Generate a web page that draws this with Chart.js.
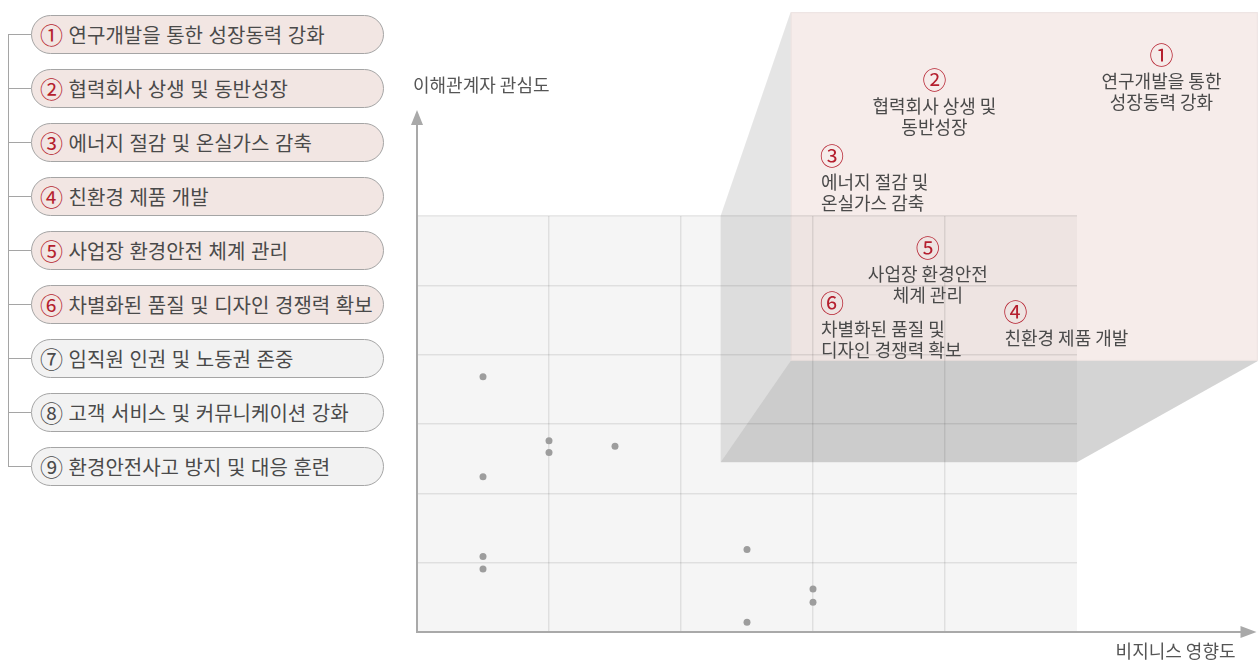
<!DOCTYPE html>
<html lang="ko">
<head>
<meta charset="utf-8">
<script src="https://cdn.jsdelivr.net/npm/chart.js@4"></script>
<style>
  body { margin: 0; background: #fff; font-family: "Noto Sans CJK KR", sans-serif; }
  #wrap { position: relative; width: 1258px; height: 669px; overflow: hidden; }
  #matrix { position: absolute; left: 0; top: 0; }
  .issue {
    position: absolute; left: 31px; width: 353px; height: 39px; box-sizing: border-box;
    border: 1px solid #a5a5a5; border-radius: 20px; background: #f2f2f2;
    padding-left: 8px; font-size: 20px; line-height: 37px; color: #4a4a4a; white-space: nowrap;
  }
  .issue.key { background: #f2e6e3; }
  .issue .num { color: #4a4a4a; font-size: 23px; vertical-align: top; }
  .issue.key .num { color: #b51f2e; }
  .tree { position: absolute; background: #a5a5a5; }
</style>
</head>
<body>
<div id="wrap">
  <div id="issueList"></div>
  <canvas id="matrix" width="1258" height="669"></canvas>
</div>
<script>
// 이슈 목록 (왼쪽 리스트)
const issueNums = ["①", "②", "③", "④", "⑤", "⑥", "⑦", "⑧", "⑨"];
const issueNames = [
  "연구개발을 통한 성장동력 강화",
  "협력회사 상생 및 동반성장",
  "에너지 절감 및 온실가스 감축",
  "친환경 제품 개발",
  "사업장 환경안전 체계 관리",
  "차별화된 품질 및 디자인 경쟁력 확보",
  "임직원 인권 및 노동권 존중",
  "고객 서비스 및 커뮤니케이션 강화",
  "환경안전사고 방지 및 대응 훈련"
];
const keyIssueCount = 6;

// 핵심 이슈 라벨 위치 (차트 단위)
const keyX = [5.64, 3.92, 3.06, 4.45, 3.87, 3.06];
const keyY = [8.32, 7.96, 6.87, 4.62, 5.54, 4.75];
const keyLines = [
  ["연구개발을 통한", "성장동력 강화"],
  ["협력회사 상생 및", "동반성장"],
  ["에너지 절감 및", "온실가스 감축"],
  ["친환경 제품 개발"],
  ["사업장 환경안전", "체계 관리"],
  ["차별화된 품질 및", "디자인 경쟁력 확보"]
];
const keyAlign = ["center", "center", "left", "left", "center", "left"];

// 기타 이슈 (회색 점)
const otherX = [0.5, 1.0, 1.0, 1.5, 0.5, 0.5, 0.5, 2.5, 3.0, 3.0, 2.5];
const otherY = [3.68, 2.76, 2.59, 2.68, 2.24, 1.09, 0.91, 1.19, 0.62, 0.43, 0.14];

// 축 범위
const xTicks = [0, 1, 2, 3, 4, 5];
const yTicks = [0, 1, 2, 3, 4, 5, 6];
const xAxisEnd = 6.36;
const yAxisEnd = 7.53;

// 핵심 이슈 영역 (입체 상자, 차트 단위)
const boxBack = { x0: 2.3, x1: 5, y0: 2.45, y1: 6 };
const boxFront = { x0: 2.83, x1: 6.37, y0: 3.91, y1: 8.94 };

// 왼쪽 리스트 그리기
const list = document.getElementById("issueList");
issueNames.forEach((name, i) => {
  const top = 15 + i * 54;
  const el = document.createElement("div");
  el.className = "issue" + (i < keyIssueCount ? " key" : "");
  el.style.top = top + "px";
  el.innerHTML = '<span class="num">' + issueNums[i] + "</span> " + name;
  list.appendChild(el);
  const tick = document.createElement("div");
  tick.className = "tree";
  tick.style.cssText = "left:8px;top:" + (top + 19) + "px;width:23px;height:1px;";
  list.appendChild(tick);
});
const trunk = document.createElement("div");
trunk.className = "tree";
trunk.style.cssText = "left:8px;top:34px;width:1px;height:" + (8 * 54 + 1) + "px;";
list.appendChild(trunk);

const backdrop = {
  id: "backdrop",
  beforeDraw(chart) {
    const { ctx, chartArea: a, scales: { x, y } } = chart;
    ctx.save();
    ctx.fillStyle = "rgba(0,0,0,0.04)";
    ctx.fillRect(a.left, a.top, a.right - a.left, a.bottom - a.top);

    const bx0 = x.getPixelForValue(boxBack.x0), bx1 = x.getPixelForValue(boxBack.x1);
    const by0 = y.getPixelForValue(boxBack.y0), by1 = y.getPixelForValue(boxBack.y1);
    const fx0 = x.getPixelForValue(boxFront.x0), fx1 = x.getPixelForValue(boxFront.x1);
    const fy0 = y.getPixelForValue(boxFront.y0), fy1 = y.getPixelForValue(boxFront.y1);

    // 왼쪽 면
    ctx.fillStyle = "rgba(0,0,0,0.10)";
    ctx.beginPath();
    ctx.moveTo(fx0, fy1); ctx.lineTo(bx0, by1); ctx.lineTo(bx0, by0); ctx.lineTo(fx0, fy0);
    ctx.closePath(); ctx.fill();

    // 아래 면
    ctx.fillStyle = "rgba(0,0,0,0.17)";
    ctx.beginPath();
    ctx.moveTo(bx0, by0); ctx.lineTo(bx1, by0); ctx.lineTo(fx1, fy0); ctx.lineTo(fx0, fy0);
    ctx.closePath(); ctx.fill();

    // 앞 면
    ctx.fillStyle = "rgba(185,105,95,0.13)";
    ctx.fillRect(fx0, fy1, fx1 - fx0, fy0 - fy1);
    ctx.strokeStyle = "rgba(0,0,0,0.05)";
    ctx.lineWidth = 1;
    ctx.strokeRect(fx0 + 0.5, fy1 + 0.5, fx1 - fx0 - 1, fy0 - fy1 - 1);
    ctx.restore();
  }
};

const overlay = {
  id: "overlay",
  afterDraw(chart) {
    const { ctx, scales: { x, y } } = chart;
    const x0 = x.getPixelForValue(0), y0 = y.getPixelForValue(0);
    const xe = x.getPixelForValue(xAxisEnd), ye = y.getPixelForValue(yAxisEnd);
    ctx.save();
    ctx.strokeStyle = "#a9a9a9";
    ctx.fillStyle = "#a9a9a9";
    ctx.lineWidth = 2;
    ctx.beginPath();
    ctx.moveTo(x0, y0 + 1); ctx.lineTo(x0, ye + 10);
    ctx.moveTo(x0 - 1, y0); ctx.lineTo(xe - 10, y0);
    ctx.stroke();
    ctx.beginPath();
    ctx.moveTo(x0, ye); ctx.lineTo(x0 - 6, ye + 15); ctx.lineTo(x0 + 6, ye + 15);
    ctx.closePath(); ctx.fill();
    ctx.beginPath();
    ctx.moveTo(xe, y0); ctx.lineTo(xe - 16, y0 - 6); ctx.lineTo(xe - 16, y0 + 6);
    ctx.closePath(); ctx.fill();

    ctx.font = '18px "Noto Sans CJK KR"';
    ctx.fillStyle = "#555";
    ctx.textBaseline = "middle";
    ctx.textAlign = "left";
    ctx.fillText("이해관계자 관심도", x0 - 4, ye - 25);
    ctx.textAlign = "right";
    ctx.fillText("비지니스 영향도", xe - 21, y0 + 19);

    // 핵심 이슈 라벨
    const meta = chart.getDatasetMeta(0);
    meta.data.forEach((pt, i) => {
      ctx.textAlign = keyAlign[i];
      ctx.font = '24px "Noto Sans CJK KR"';
      ctx.fillStyle = "#b51f2e";
      const nx = keyAlign[i] === "left" ? pt.x - 1 : pt.x;
      ctx.fillText(issueNums[i], nx, pt.y);
      ctx.font = '18px "Noto Sans CJK KR"';
      ctx.fillStyle = "#4a4a4a";
      keyLines[i].forEach((line, j) => {
        ctx.fillText(line, pt.x, pt.y + 26 + j * 21.5);
      });
    });
    ctx.restore();
  }
};

const gridColor = "rgba(0,0,0,0.09)";
new Chart(document.getElementById("matrix"), {
  type: "scatter",
  data: {
    datasets: [
      {
        label: "핵심 이슈",
        data: keyX.map((v, i) => ({ x: v, y: keyY[i] })),
        pointRadius: 0
      },
      {
        label: "기타 이슈",
        data: otherX.map((v, i) => ({ x: v, y: otherY[i] })),
        pointRadius: 3.5,
        backgroundColor: "#9d9d9d",
        borderWidth: 0
      }
    ]
  },
  options: {
    responsive: false,
    animation: false,
    clip: false,
    layout: { padding: { left: 417, right: 181, top: 216, bottom: 37 } },
    plugins: { legend: { display: false }, tooltip: { enabled: false } },
    scales: {
      x: {
        type: "linear",
        min: xTicks[0],
        max: xTicks[xTicks.length - 1],
        afterBuildTicks: (s) => { s.ticks = xTicks.map((v) => ({ value: v })); },
        ticks: { display: false },
        border: { display: false },
        grid: {
          drawTicks: false,
          lineWidth: 1.5,
          color: (c) => (c.tick && (c.tick.value === 0 || c.tick.value === 5) ? "transparent" : gridColor)
        }
      },
      y: {
        type: "linear",
        min: yTicks[0],
        max: yTicks[yTicks.length - 1],
        afterBuildTicks: (s) => { s.ticks = yTicks.map((v) => ({ value: v })); },
        ticks: { display: false },
        border: { display: false },
        grid: {
          drawTicks: false,
          lineWidth: 1.5,
          color: (c) => (c.tick && c.tick.value === 0 ? "transparent" : gridColor)
        }
      }
    }
  },
  plugins: [backdrop, overlay]
});
</script>
</body>
</html>
